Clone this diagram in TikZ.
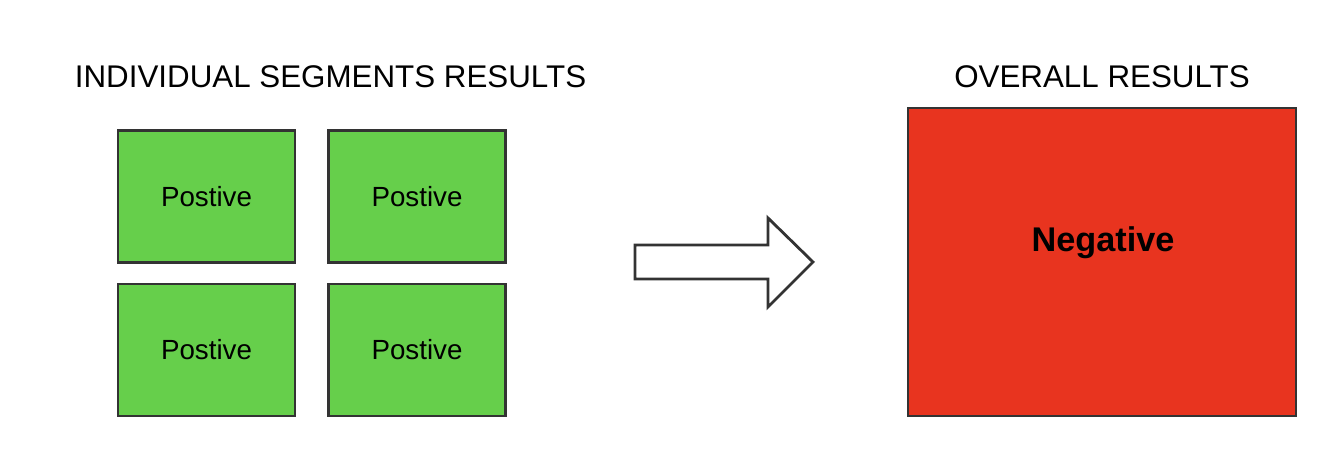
\documentclass[tikz,border=0pt]{standalone}
\usepackage{fontspec}
\setmainfont{Liberation Sans}
\usepackage{tikz}
\usetikzlibrary{calc}

\definecolor{segGreen}{HTML}{66CF4B}
\definecolor{overallRed}{HTML}{E8341F}
\definecolor{edgeGray}{HTML}{333333}

\tikzset{
  segbox/.style={draw=edgeGray, line width=2.1pt, fill=segGreen, minimum width=132.75pt, minimum height=99pt, font=\fontsize{20.8}{24}\selectfont},
  resultbox/.style={draw=edgeGray, line width=2.1pt, fill=overallRed, minimum width=291pt, minimum height=231pt, font=\fontsize{25.7}{30}\selectfont\bfseries},
  headline/.style={font=\fontsize{23.5}{28}\selectfont}
}

\begin{document}
\begin{tikzpicture}[x=0.75pt, y=-0.75pt]
  \useasboundingbox (0,0) rectangle (1328,470);

  % Titles
  \node[headline] (segtitle) at (330.5, 77) {INDIVIDUAL SEGMENTS RESULTS};
  \node[headline] (overalltitle) at (1102, 77) {OVERALL RESULTS};

  % Individual segment boxes
  \node[segbox] (seg1) at (206.5, 196.5) {Postive};
  \node[segbox] (seg2) at (417, 196.5) {Postive};
  \node[segbox] (seg3) at (206.5, 350) {Postive};
  \node[segbox] (seg4) at (417, 350) {Postive};

  % Overall result
  \node[resultbox] (overall) at (1102, 262) {};
  \node[font=\fontsize{25.7}{30}\selectfont\bfseries] (overalltext) at (1103, 243) {Negative};

  % Block arrow
  \draw[edgeGray, line width=2.1pt, fill=white, line join=miter]
    (635, 245) -- (768, 245) -- (768, 218) -- (813, 262)
    -- (768, 307) -- (768, 279) -- (635, 279) -- cycle;

\end{tikzpicture}
\end{document}
